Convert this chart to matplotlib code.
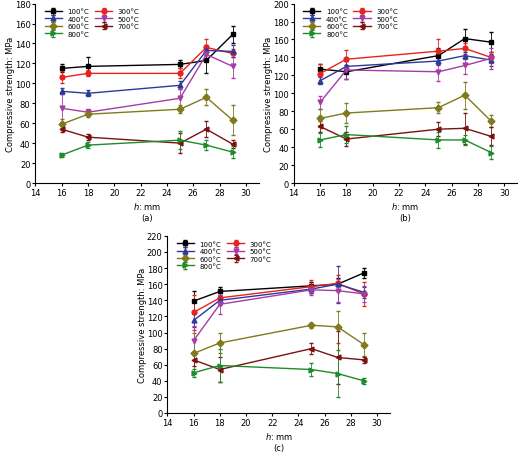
import matplotlib.pyplot as plt

h = [16, 18, 25, 27, 29]
temps = ['100°C', '300°C', '400°C', '500°C', '600°C', '700°C', '800°C']
colors = ['black', '#e8221e', '#2e3a9a', '#a63ca6', '#7f7a1e', '#7a1212', '#1e8c2a']
markers = ['s', 'o', '^', 'v', 'D', '<', '>']

# panel (a)
a_vals = [[115, 117, 119, 123, 149],
          [106, 110, 110, 136, 130],
          [92, 90, 98, 133, 132],
          [75, 71, 85, 129, 117],
          [59, 69, 74, 86, 63],
          [54, 46, 40, 54, 39],
          [28, 38, 43, 38, 31]]
a_err = [[4, 9, 4, 13, 9], [6, 3, 5, 8, 4], [3, 3, 4, 5, 6], [14, 3, 9, 5, 12],
         [5, 3, 4, 8, 15], [3, 3, 10, 8, 4], [2, 3, 9, 5, 6]]
# panel (b)
b_vals = [[127, 124, 142, 161, 157],
          [122, 138, 147, 150, 140],
          [114, 130, 136, 142, 137],
          [90, 126, 124, 131, 139],
          [72, 78, 84, 98, 69],
          [63, 49, 60, 61, 52],
          [48, 54, 48, 48, 34]]
b_err = [[6, 8, 8, 11, 11], [11, 10, 14, 6, 6], [4, 6, 5, 4, 7], [7, 10, 10, 9, 12],
         [10, 11, 6, 15, 7], [6, 8, 8, 17, 10], [8, 9, 9, 6, 7]]
# panel (c)
c_vals = [[139, 151, 158, 160, 174],
          [125, 143, 157, 161, 148],
          [115, 140, 154, 160, 150],
          [90, 135, 153, 152, 148],
          [74, 87, 109, 107, 85],
          [66, 54, 80, 69, 66],
          [50, 59, 54, 49, 40]]
c_err = [[12, 6, 5, 8, 6], [22, 8, 8, 10, 15], [8, 6, 5, 23, 7], [18, 12, 6, 14, 10],
         [25, 12, 3, 20, 14], [8, 15, 7, 33, 4], [5, 20, 8, 29, 4]]


def draw(ax, vals, errs, ymax, label):
    hs = []
    for v, e, c, m, t in zip(vals, errs, colors, markers, temps):
        hs.append(ax.errorbar(h, v, yerr=e, color=c, marker=m, markersize=3.5, lw=1,
                              elinewidth=0.6, capsize=1.5, ecolor=c, label=t))
    ax.set_xlim(14, 31)
    ax.set_xticks(range(14, 31, 2))
    ax.set_ylim(0, ymax)
    ax.set_yticks(range(0, ymax + 1, 20))
    ax.tick_params(labelsize=6, length=2, pad=1.5, direction='out')
    ax.set_ylabel('Compressive strength: MPa', fontsize=6, labelpad=0)
    ax.set_xlabel('$h$: mm\n' + label, fontsize=6, linespacing=1.4, labelpad=2)
    for s in ['top', 'right']:
        ax.spines[s].set_visible(False)
    # row-wise legend order
    order = [0, 2, 4, 6, 1, 3, 5]
    ax.legend([hs[i] for i in order], [temps[i] for i in order], ncol=2, fontsize=5,
              frameon=False, loc='upper left', handlelength=2.5, columnspacing=0.8,
              labelspacing=0.2, borderaxespad=0.3, bbox_to_anchor=(0.02, 1.0))


fig = plt.figure(figsize=(5.2, 4.6), dpi=100)
ax1 = fig.add_axes([0.068, 0.60, 0.43, 0.39])
ax2 = fig.add_axes([0.565, 0.60, 0.43, 0.39])
ax3 = fig.add_axes([0.322, 0.10, 0.428, 0.385])
draw(ax1, a_vals, a_err, 180, '(a)')
draw(ax2, b_vals, b_err, 200, '(b)')
draw(ax3, c_vals, c_err, 220, '(c)')
fig.savefig('out.png', dpi=100)
